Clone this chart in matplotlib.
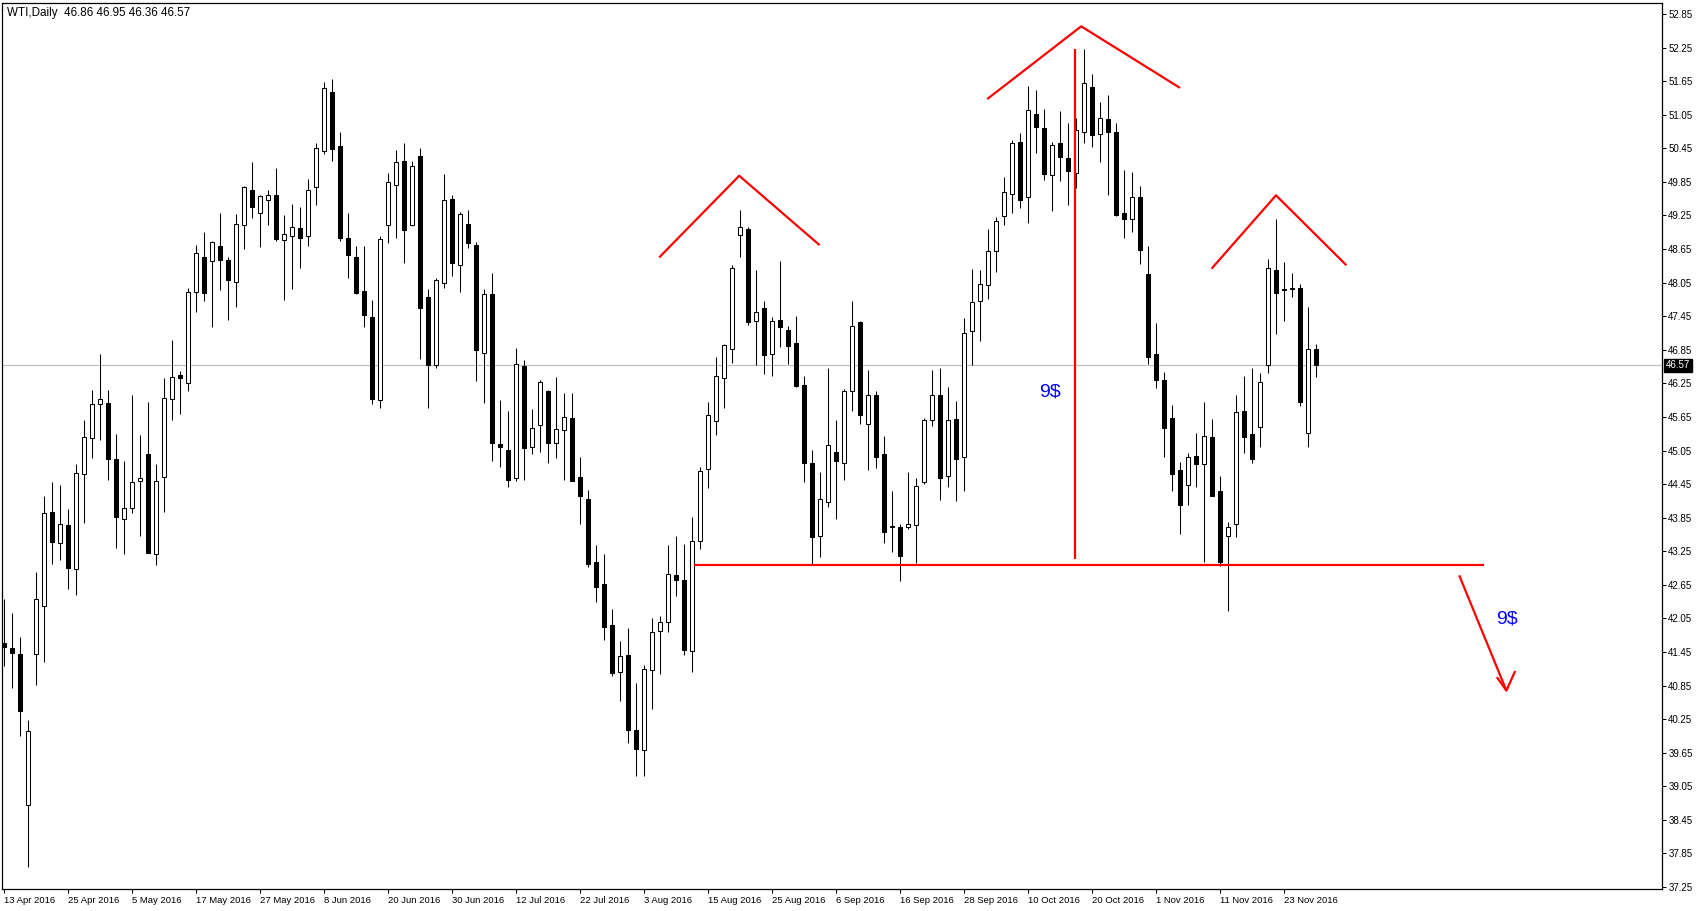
import matplotlib
matplotlib.use("Agg")
import matplotlib.pyplot as plt
import numpy as np
from matplotlib import transforms

# daily WTI bars, 13 Apr 2016 .. 29 Nov 2016 (one entry per trading day)
opens = [
    41.61, 41.52, 41.42, 38.72, 41.41, 42.27, 43.95, 43.39, 43.72, 42.93,
    44.63, 45.28, 45.88, 45.89, 44.89, 43.82, 44.02, 44.50, 44.99, 43.20,
    44.57, 45.97, 46.40, 46.26, 47.88, 48.51, 48.43, 48.71, 48.46, 48.06,
    49.08, 49.70, 49.30, 49.53, 49.62, 48.82, 48.88, 49.03, 48.88, 49.75,
    50.41, 51.46, 50.49, 48.85, 48.51, 47.90, 47.43, 45.96, 49.08, 49.80,
    50.22, 49.08, 50.31, 47.79, 46.57, 48.04, 49.55, 48.37, 49.10, 48.72,
    46.79, 47.85, 45.17, 45.06, 44.56, 46.56, 45.12, 45.50, 46.11, 45.19,
    45.41, 45.63, 44.58, 44.19, 43.05, 42.66, 41.93, 41.10, 41.40, 40.06,
    39.70, 41.12, 41.83, 41.98, 42.82, 42.73, 41.46, 43.44, 44.72, 45.57,
    46.35, 46.87, 48.91, 49.00, 47.37, 47.59, 46.78, 47.38, 47.20, 46.97,
    46.22, 44.83, 43.53, 44.13, 45.02, 44.83, 46.11, 47.34, 45.53, 46.04,
    44.99, 43.68, 43.69, 43.68, 43.72, 44.48, 45.60, 46.04, 44.59, 45.61,
    44.94, 47.18, 47.72, 48.01, 48.62, 49.24, 49.64, 50.56, 49.58, 51.06,
    50.81, 49.98, 50.54, 50.27, 50.01, 50.75, 51.55, 50.70, 50.98, 50.75,
    49.29, 49.19, 49.58, 48.21, 46.77, 46.31, 45.63, 44.70, 44.43, 44.95,
    44.80, 45.29, 44.32, 43.52, 43.73, 45.76, 45.35, 45.47, 46.58, 48.28,
    47.93, 47.94, 47.95, 45.36, 46.86,
]
highs = [
    42.40, 42.15, 41.72, 40.23, 42.87, 44.24, 44.48, 44.43, 44.01, 44.81,
    45.60, 46.13, 46.77, 46.13, 45.35, 44.87, 46.04, 45.33, 45.92, 44.80,
    46.35, 47.02, 46.47, 47.95, 48.73, 48.95, 48.80, 49.29, 48.50, 49.27,
    49.78, 50.20, 49.62, 49.71, 50.10, 49.25, 49.46, 49.41, 49.90, 50.55,
    51.63, 51.68, 50.74, 49.29, 48.70, 48.71, 47.74, 48.89, 50.01, 50.42,
    50.54, 50.22, 50.45, 47.94, 48.13, 50.00, 49.61, 49.31, 49.34, 48.78,
    47.93, 48.23, 45.95, 45.75, 46.89, 46.66, 45.79, 46.31, 46.13, 46.36,
    46.07, 46.07, 44.94, 44.35, 43.37, 43.20, 42.22, 41.65, 41.87, 40.90,
    41.21, 42.06, 42.09, 43.37, 43.52, 43.38, 43.86, 44.76, 45.92, 46.72,
    46.95, 48.37, 49.35, 49.05, 48.28, 47.72, 47.44, 48.43, 47.27, 47.46,
    46.38, 45.06, 44.66, 46.53, 45.60, 46.15, 47.72, 47.36, 46.49, 46.12,
    45.31, 44.32, 43.73, 44.67, 44.56, 45.63, 46.49, 46.53, 46.18, 45.94,
    47.42, 48.29, 48.27, 49.00, 49.23, 49.94, 50.60, 50.72, 51.56, 51.50,
    51.16, 50.57, 51.12, 50.90, 51.00, 52.22, 51.78, 51.28, 51.40, 50.90,
    50.06, 50.03, 49.78, 48.71, 47.32, 46.45, 45.87, 44.85, 45.00, 45.36,
    45.92, 45.61, 44.60, 43.78, 46.05, 46.38, 46.53, 46.43, 48.48, 49.18,
    48.41, 48.23, 48.02, 47.62, 46.95,
]
lows = [
    41.20, 40.80, 39.95, 37.60, 40.86, 41.27, 43.02, 43.09, 42.57, 42.47,
    43.75, 44.92, 45.23, 44.53, 43.30, 43.20, 43.94, 43.52, 43.21, 43.00,
    43.95, 45.59, 45.71, 46.11, 47.52, 47.73, 47.25, 47.92, 47.39, 47.62,
    48.65, 49.20, 48.68, 49.08, 48.79, 47.74, 47.94, 48.32, 48.70, 49.44,
    50.34, 50.23, 48.79, 48.14, 47.84, 47.26, 45.88, 45.81, 48.76, 48.85,
    48.40, 49.06, 46.69, 45.81, 46.52, 47.96, 48.16, 47.89, 48.67, 46.29,
    45.90, 44.87, 44.75, 44.40, 44.50, 44.53, 44.98, 45.03, 44.83, 44.92,
    44.53, 44.50, 43.74, 42.96, 42.35, 41.67, 41.02, 40.57, 39.82, 39.24,
    39.24, 40.43, 41.05, 41.80, 42.45, 41.39, 41.10, 43.29, 44.38, 45.32,
    45.81, 46.61, 48.51, 47.30, 46.57, 46.42, 46.39, 46.90, 46.59, 46.19,
    44.48, 43.00, 43.15, 44.04, 43.82, 44.53, 45.75, 45.53, 44.70, 44.74,
    43.40, 43.23, 42.72, 43.65, 43.04, 44.46, 45.49, 44.17, 44.40, 44.15,
    44.32, 46.57, 47.01, 47.76, 48.24, 49.08, 49.29, 49.38, 49.12, 50.37,
    49.88, 49.33, 49.87, 49.44, 49.74, 50.55, 50.48, 50.21, 49.62, 49.24,
    48.85, 48.96, 48.38, 46.60, 46.17, 44.94, 44.33, 43.55, 44.07, 44.39,
    43.05, 44.23, 42.99, 42.18, 43.51, 45.00, 44.83, 45.12, 46.43, 47.13,
    47.36, 47.80, 45.85, 45.11, 46.36,
]
closes = [
    41.53, 41.43, 40.40, 40.03, 42.40, 43.94, 43.41, 43.74, 42.95, 44.65,
    45.30, 45.88, 45.97, 44.89, 43.87, 44.03, 44.49, 44.56, 43.22, 44.50,
    45.98, 46.37, 46.34, 47.89, 48.58, 47.86, 48.77, 48.45, 48.09, 49.10,
    49.75, 49.41, 49.59, 49.61, 48.83, 48.92, 49.05, 48.85, 49.71, 50.45,
    51.53, 50.44, 48.85, 48.54, 47.86, 47.48, 45.97, 48.83, 49.84, 50.20,
    48.99, 50.14, 47.59, 46.58, 48.10, 49.53, 48.40, 49.28, 48.76, 46.84,
    47.85, 45.18, 45.12, 44.52, 46.60, 45.09, 45.46, 46.27, 45.19, 45.43,
    45.64, 44.51, 44.23, 43.02, 42.61, 41.89, 41.08, 41.37, 40.06, 39.71,
    41.15, 41.81, 41.99, 42.85, 42.74, 41.49, 43.44, 44.68, 45.68, 46.39,
    46.93, 48.32, 49.05, 47.34, 47.52, 46.76, 47.36, 47.26, 46.92, 46.21,
    44.83, 43.50, 44.18, 45.15, 44.86, 46.12, 47.28, 45.69, 46.04, 44.94,
    43.59, 43.70, 43.16, 43.74, 44.42, 45.60, 46.05, 44.55, 45.60, 44.89,
    47.15, 47.70, 48.02, 48.62, 49.15, 49.67, 50.55, 49.52, 51.13, 50.83,
    49.99, 50.51, 50.29, 50.05, 50.78, 51.62, 50.68, 51.00, 50.75, 49.26,
    49.18, 49.58, 48.63, 46.72, 46.31, 45.46, 44.63, 44.08, 44.94, 44.81,
    45.31, 44.24, 43.06, 43.68, 45.73, 45.30, 44.89, 46.28, 48.31, 47.86,
    47.91, 47.96, 45.92, 46.87, 46.57,
]

date_labels = [
    "13 Apr 2016", "25 Apr 2016", "5 May 2016", "17 May 2016", "27 May 2016",
    "8 Jun 2016", "20 Jun 2016", "30 Jun 2016", "12 Jul 2016", "22 Jul 2016",
    "3 Aug 2016", "15 Aug 2016", "25 Aug 2016", "6 Sep 2016", "16 Sep 2016",
    "28 Sep 2016", "10 Oct 2016", "20 Oct 2016", "1 Nov 2016", "11 Nov 2016",
    "23 Nov 2016",
]
label_every = 8
price_ticks = np.round(np.arange(37.25, 52.86, 0.6), 2)
last_price = 46.57
header = "WTI,Daily  46.86 46.95 46.36 46.57"

# hand-drawn head & shoulders study (bar index, price)
left_shoulder = [(81.9, 48.50), (91.9, 49.96), (101.95, 48.72)]
head = [(122.9, 51.33), (134.65, 52.63), (147.0, 51.53)]
right_shoulder = [(150.95, 48.30), (159.0, 49.61), (167.8, 48.36)]
neckline = 43.0
neckline_span = (86.25, 185.0)
height_bar = 133.85
height_span = (43.11, 52.23)
arrow_line = [(181.9, 42.82), (187.8, 40.76)]
arrow_head = [(186.6, 41.0), (187.8, 40.76), (188.9, 41.11)]
target_labels = [(130.7, 46.09, "9$"), (187.9, 42.04, "9$")]

FONT = ["Liberation Sans", "DejaVu Sans"]
plt.rcParams["font.family"] = FONT

W, H = 1702, 911
fig = plt.figure(figsize=(W / 100, H / 100), dpi=100)
ax = fig.add_axes([2 / W, 22 / H, 1660 / W, 886 / H])

x = np.arange(len(opens))
o = np.array(opens)
c = np.array(closes)
up = c >= o

ax.vlines(x, lows, highs, color="black", linewidth=0.75, zorder=2)
ax.bar(x, np.maximum(np.abs(c - o), 0.015), bottom=np.minimum(o, c), width=0.5,
       color=np.where(up, "white", "black"), edgecolor="black", linewidth=0.75,
       zorder=3)

ax.axhline(last_price, color="#c0c0c0", linewidth=0.9, zorder=1)

red = dict(color="#ff0000", linewidth=1.6, zorder=4, solid_capstyle="butt")
for pts in (left_shoulder, head, right_shoulder, arrow_line, arrow_head):
    xs, ys = zip(*pts)
    ax.plot(xs, ys, **red)
ax.plot(neckline_span, [neckline, neckline], **red)
ax.plot([height_bar, height_bar], height_span, **red)
for tx, ty, s in target_labels:
    ax.text(tx, ty, s, color="#0000ff", fontsize=14, ha="center", va="center",
            zorder=5)

ax.set_xlim(-0.25, 207.25)
ax.set_ylim(37.214, 53.047)

ax.set_xticks(np.arange(len(date_labels)) * label_every)
ax.set_xticklabels(date_labels, ha="left", fontsize=6.8)
shift = transforms.ScaledTranslation(-2 / 100, 0, fig.dpi_scale_trans)
for lbl in ax.get_xticklabels():
    lbl.set_transform(lbl.get_transform() + shift)
ax.yaxis.tick_right()
ax.set_yticks(price_ticks)
ax.set_yticklabels([f"{v:.2f}" for v in price_ticks], fontsize=7)
ax.tick_params(axis="both", length=3, width=0.75, color="black")
ax.tick_params(axis="x", pad=2)
ax.tick_params(axis="y", pad=1.5)
for sp in ax.spines.values():
    sp.set_linewidth(0.9)
    sp.set_color("black")

trans = transforms.blended_transform_factory(ax.transAxes, ax.transData)
ax.text(1.0 + 4 / 1660, last_price, f"{last_price:.2f}", transform=trans,
        ha="left", va="center", fontsize=7, color="white", zorder=6,
        bbox=dict(boxstyle="square,pad=0.2", facecolor="black", edgecolor="black"),
        clip_on=False)

ax.text(5 / 1660, 1 - 10 / 886, header, transform=ax.transAxes, ha="left",
        va="center", fontsize=8.4, color="black")

fig.savefig("out.png", dpi=100, facecolor="white")
